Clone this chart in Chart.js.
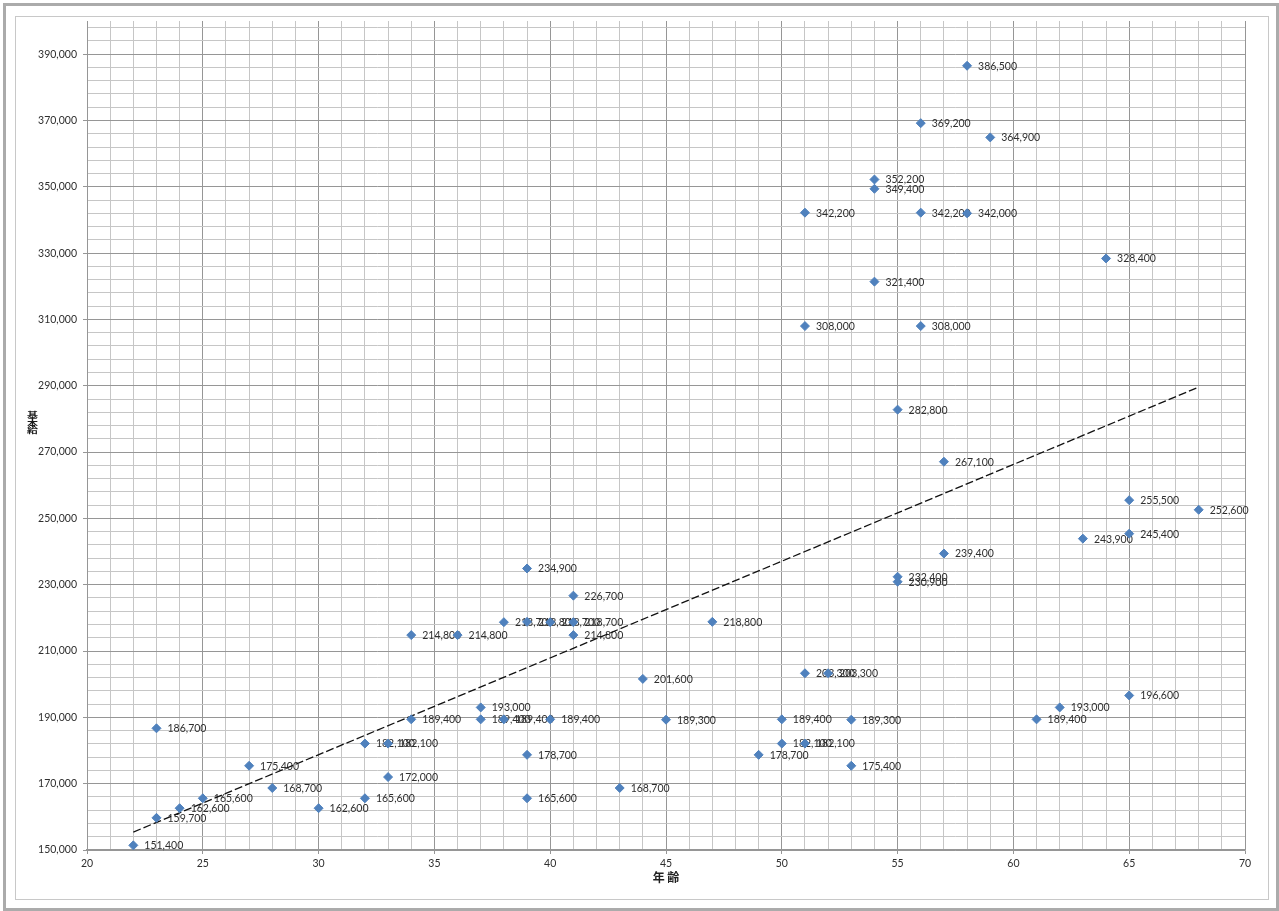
<!DOCTYPE html>
<html>
<head>
<meta charset="utf-8">
<script src="https://cdn.jsdelivr.net/npm/chart.js@4/dist/chart.umd.min.js"></script>
<style>
  html, body { margin: 0; padding: 0; background: #fff; }
  #wrap { position: relative; width: 1279px; height: 911px; overflow: hidden; }
  .frame-outer { position: absolute; left: 3px; top: 3px; width: 1276px; height: 908px;
                 box-sizing: border-box; border: 3px solid #ababab; }
  .frame-inner { position: absolute; left: 15px; top: 16px; width: 1254px; height: 884px;
                 box-sizing: border-box; border: 1px solid #c8c8c8; }
  #c { position: absolute; left: 0; top: 0; }
  #ytitle { position: absolute; left: 27px; top: 406px; width: 11px; text-align: center;
            font-family: "Noto Sans CJK JP"; font-weight: 700; font-size: 11px; line-height: 11px;
            color: #1a1a1a; transform: scaleY(0.7); transform-origin: 50% 50%; }
  #ytitle span { display: block; height: 11px; }
</style>
</head>
<body>
<div id="wrap">
  <div class="frame-outer"></div>
  <div class="frame-inner"></div>
  <canvas id="c" width="1279" height="911"></canvas>
  <div id="ytitle"><span>基</span><span>本</span><span>給</span></div>
</div>
<script>
// 年齢 (age) and 基本給 (base salary) for each employee
const ages = [
  22, 23, 23, 24, 25, 27, 28, 30, 32, 32,
  33, 33, 34, 34, 36, 37, 37, 38, 38, 39,
  39, 39, 39, 40, 40, 41, 41, 41, 43, 44,
  45, 47, 49, 50, 50, 51, 51, 52, 51, 51,
  53, 53, 54, 54, 54, 55, 55, 55, 56, 56,
  56, 57, 57, 58, 58, 59, 61, 62, 63, 64,
  65, 65, 65, 68
];
const salaries = [
  151400, 159700, 186700, 162600, 165600, 175400, 168700, 162600, 165600, 182100,
  182100, 172000, 189400, 214800, 214800, 193000, 189400, 189400, 218700, 218800,
  234900, 178700, 165600, 189400, 218700, 218700, 226700, 214800, 168700, 201600,
  189300, 218800, 178700, 189400, 182100, 182100, 203300, 203300, 342200, 308000,
  189300, 175400, 352200, 349400, 321400, 282800, 232400, 230900, 369200, 342200,
  308000, 267100, 239400, 386500, 342000, 364900, 189400, 193000, 243900, 328400,
  255500, 245400, 196600, 252600
];

// linear trend line end points
const trendAges = [22, 68];
const trendSalaries = [155400, 289600];

// axis ranges and grid steps
const xRange = [20, 70];
const xSteps = [5, 1];          // major, minor
const yRange = [150000, 400000];
const ySteps = [20000, 4000];   // major, minor

const MAJOR_GRID = '#969696';
const MINOR_GRID = '#c6c6c6';
const TEXT = '#2e2e2e';
const BLUE = '#4F81BD';
const LABEL_FONT = { family: 'Lato', size: 10.5 };

const fmt = v => Number(v).toLocaleString('en-US');
const isMajorX = v => (v - xRange[0]) % xSteps[0] === 0;
const isMajorY = v => (v - yRange[0]) % ySteps[0] === 0;

const points = ages.map((a, i) => ({ x: a, y: salaries[i] }));
const trend = trendAges.map((a, i) => ({ x: a, y: trendSalaries[i] }));

// value labels to the right of each marker
const pointLabels = {
  id: 'pointLabels',
  beforeDatasetsDraw(chart) {
    const meta = chart.getDatasetMeta(0);
    const ctx = chart.ctx;
    ctx.save();
    ctx.font = LABEL_FONT.size + 'px ' + LABEL_FONT.family;
    ctx.fillStyle = TEXT;
    ctx.textAlign = 'left';
    ctx.textBaseline = 'middle';
    meta.data.forEach((el, i) => {
      ctx.fillText(fmt(salaries[i]), el.x + 11, el.y + 0.5);
    });
    ctx.restore();
  }
};

new Chart(document.getElementById('c'), {
  data: {
    datasets: [
      {
        type: 'scatter',
        data: points,
        pointStyle: 'rectRot',
        pointRadius: 4.5,
        backgroundColor: BLUE,
        borderColor: BLUE,
        borderWidth: 1
      },
      {
        type: 'line',
        data: trend,
        borderColor: '#111',
        borderWidth: 1.3,
        borderDash: [8, 3],
        pointRadius: 0,
        fill: false
      }
    ]
  },
  options: {
    responsive: false,
    animation: false,
    layout: { padding: { left: 0, top: 21, right: 34, bottom: 0 } },
    plugins: {
      legend: { display: false },
      tooltip: { enabled: false }
    },
    scales: {
      x: {
        type: 'linear',
        min: xRange[0],
        max: xRange[1],
        ticks: {
          stepSize: xSteps[1],
          autoSkip: false,
          maxRotation: 0,
          padding: 3,
          color: TEXT,
          font: LABEL_FONT,
          callback: v => isMajorX(v) ? String(v) : ''
        },
        grid: {
          color: c => isMajorX(c.tick.value) ? MAJOR_GRID : MINOR_GRID,
          tickColor: c => isMajorX(c.tick.value) ? MAJOR_GRID : 'rgba(0,0,0,0)',
          tickLength: 4,
          lineWidth: 1
        },
        border: { color: MAJOR_GRID, width: 1.5 },
        title: {
          display: true,
          text: '年 齢',
          color: '#222',
          font: { family: '"Noto Sans CJK JP"', size: 12, weight: 'bold' },
          padding: { top: 0, bottom: 26 }
        },
        afterFit: s => { s.height = 61; }
      },
      y: {
        type: 'linear',
        min: yRange[0],
        max: yRange[1],
        afterBuildTicks: s => {
          const t = [];
          for (let v = yRange[0]; v < yRange[1]; v += ySteps[1]) t.push({ value: v });
          s.ticks = t;
        },
        ticks: {
          autoSkip: false,
          padding: 6,
          color: TEXT,
          font: LABEL_FONT,
          callback: v => isMajorY(v) ? fmt(v) : ''
        },
        grid: {
          color: c => isMajorY(c.tick.value) ? MAJOR_GRID : MINOR_GRID,
          tickColor: c => isMajorY(c.tick.value) ? MAJOR_GRID : 'rgba(0,0,0,0)',
          tickLength: 4,
          lineWidth: 1
        },
        border: { color: MAJOR_GRID, width: 1 },
        afterFit: s => { s.width = 87; }
      }
    }
  },
  plugins: [pointLabels]
});
</script>
</body>
</html>
